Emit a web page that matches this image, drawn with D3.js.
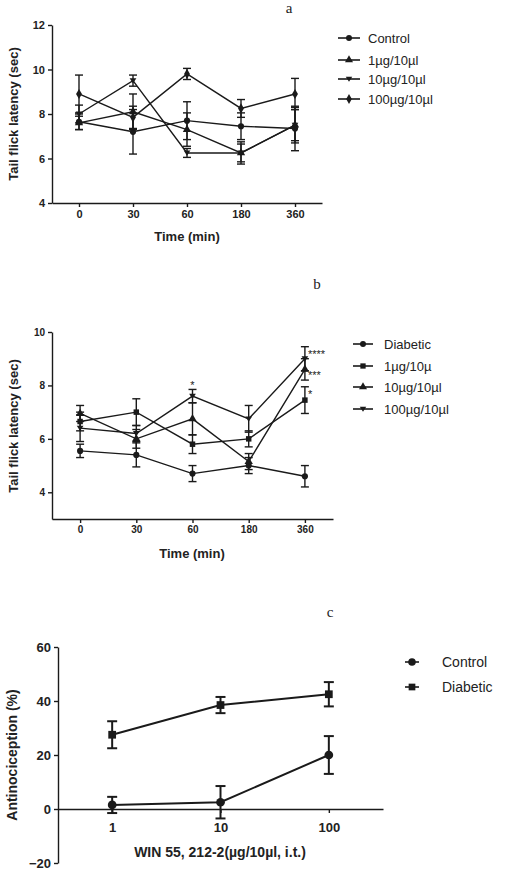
<!DOCTYPE html>
<html lang="en">
<head>
<meta charset="UTF-8">
<title>Tail flick</title>
<script src="https://cdn.jsdelivr.net/npm/d3@7"></script>
<style>
  html, body { margin: 0; padding: 0; background: #fff; }
  .tick text { font-family: 'Liberation Sans', Arial; font-weight: bold; font-size: 11px; fill: #222; }
  .lbl { font-family: 'Liberation Sans', Arial; font-weight: bold; font-size: 13px; fill: #222; }
  .leg { font-family: 'Liberation Sans', Arial; font-size: 13px; fill: #222; }
  .ttl { font-family: 'Liberation Serif', serif; font-size: 15px; fill: #222; }
</style>
</head>
<body>
<script>
const timesA = ["0", "30", "60", "180", "360"];
const namesA = ["Control", "1µg/10µl", "10µg/10µl", "100µg/10µl"];
const meansA = [
  [7.65, 7.2, 7.7, 7.45, 7.35],
  [7.6, 8.1, 7.3, 6.25, 7.5],
  [8.0, 9.5, 6.25, 6.25, 7.5],
  [8.9, 7.85, 9.8, 8.25, 8.9]
];
const errsA = [
  [0.35, 1.0, 0.85, 0.6, 1.0],
  [0.3, 0.8, 0.75, 0.5, 0.7],
  [0.4, 0.25, 0.2, 0.4, 0.8],
  [0.85, 0.5, 0.25, 0.4, 0.7]
];

const timesB = ["0", "30", "60", "180", "360"];
const namesB = ["Diabetic", "1µg/10µ", "10µg/10µl", "100µg/10µl"];
const meansB = [
  [5.55, 5.4, 4.7, 5.0, 4.6],
  [6.65, 7.0, 5.8, 6.0, 7.45],
  [6.95, 6.0, 6.75, 5.15, 8.6],
  [6.4, 6.2, 7.6, 6.75, 9.0]
];
const errsB = [
  [0.25, 0.45, 0.3, 0.3, 0.4],
  [0.35, 0.5, 0.35, 0.3, 0.5],
  [0.3, 0.35, 0.6, 0.3, 0.4],
  [0.5, 0.3, 0.25, 0.5, 0.45]
];
const starsB = [
  { t: "60", v: 8.1, text: "*" },
  { t: "360", v: 9.25, text: "****" },
  { t: "360", v: 8.45, text: "***" },
  { t: "360", v: 7.75, text: "*" }
];

const dosesC = [1, 10, 100];
const namesC = ["Control", "Diabetic"];
const meansC = [[1.5, 2.5, 20], [27.5, 38.5, 42.5]];
const errsC = [[3, 6, 7], [5, 3, 4.5]];

const svg = d3.select("body").append("svg").attr("width", 507).attr("height", 872);

const triDown = { draw(ctx, size) { const s = Math.sqrt(size / 1.3); ctx.moveTo(0, s * 0.6); ctx.lineTo(s * 0.7, -s * 0.5); ctx.lineTo(-s * 0.7, -s * 0.5); ctx.closePath(); } };

function drawSeries(g, x, y, cats, means, errs, shapes, size, cap, width) {
  means.forEach((m, si) => {
    const pts = m.map((v, i) => ({ c: cats[i], v, e: errs[si][i] }));
    g.append("path").datum(pts)
      .attr("fill", "none").attr("stroke", "#1a1a1a").attr("stroke-width", width)
      .attr("d", d3.line().x(d => x(d.c)).y(d => y(d.v)));
    const eb = g.append("g").attr("stroke", "#1a1a1a").attr("stroke-width", width);
    pts.forEach(d => {
      const cx = x(d.c);
      eb.append("line").attr("x1", cx).attr("x2", cx).attr("y1", y(d.v - d.e)).attr("y2", y(d.v + d.e));
      [d.v - d.e, d.v + d.e].forEach(v => eb.append("line").attr("x1", cx - cap).attr("x2", cx + cap).attr("y1", y(v)).attr("y2", y(v)));
    });
    g.selectAll(null).data(pts).enter().append("path")
      .attr("fill", "#1a1a1a")
      .attr("transform", d => `translate(${x(d.c)},${y(d.v)})`)
      .attr("d", d3.symbol().type(shapes[si]).size(size));
  });
}

function legend(g, names, shapes, x, ys, size, fs, lineLen, gap) {
  names.forEach((n, i) => {
    g.append("line").attr("x1", x).attr("x2", x + lineLen).attr("y1", ys[i]).attr("y2", ys[i]).attr("stroke", "#1a1a1a").attr("stroke-width", 1.6);
    g.append("path").attr("transform", `translate(${x + lineLen / 2},${ys[i]})`).attr("fill", "#1a1a1a").attr("d", d3.symbol().type(shapes[i]).size(size));
    g.append("text").attr("class", "leg").attr("x", x + lineLen + gap).attr("y", ys[i] + 4.5).style("font-size", fs + "px").text(n);
  });
}

function styleAxis(sel) {
  sel.selectAll("path, line").attr("stroke", "#1a1a1a").attr("stroke-width", 1.4);
}

// Panel a
{
  const x = d3.scalePoint().domain(timesA).range([52, 322]).padding(0.5);
  const y = d3.scaleLinear().domain([4, 12]).range([203, 25]);
  const g = svg.append("g");
  g.append("g").attr("transform", "translate(0,203)").call(d3.axisBottom(x).tickSize(4).tickSizeOuter(0)).call(styleAxis);
  g.append("g").attr("transform", "translate(52,0)").call(d3.axisLeft(y).tickValues([4, 6, 8, 10, 12]).tickFormat(d3.format("d")).tickSize(4).tickSizeOuter(0)).call(styleAxis);
  drawSeries(g, x, y, timesA, meansA, errsA, [d3.symbolCircle, d3.symbolTriangle, triDown, d3.symbolDiamond], 30, 4, 1.4);
  g.append("text").attr("class", "lbl").attr("x", 187).attr("y", 241).attr("text-anchor", "middle").text("Time (min)");
  g.append("text").attr("class", "lbl").attr("transform", "translate(18,114) rotate(-90)").attr("text-anchor", "middle").text("Tail flick latency (sec)");
  g.append("text").attr("class", "ttl").attr("x", 289).attr("y", 13).attr("text-anchor", "middle").text("a");
  legend(g, namesA, [d3.symbolCircle, d3.symbolTriangle, triDown, d3.symbolDiamond], 338, [38, 60, 79, 99], 28, 13, 22, 8);
}

// Panel b
{
  const x = d3.scalePoint().domain(timesB).range([52, 333]).padding(0.5);
  const y = d3.scaleLinear().domain([3, 10]).range([519, 332]);
  const g = svg.append("g");
  g.append("g").attr("transform", "translate(0,519)").call(d3.axisBottom(x).tickSize(4).tickSizeOuter(0)).call(styleAxis);
  g.append("g").attr("transform", "translate(52,0)").call(d3.axisLeft(y).tickValues([4, 6, 8, 10]).tickFormat(d3.format("d")).tickSize(4).tickSizeOuter(0)).call(styleAxis);
  g.selectAll(".tick text").style("font-size", "10px");
  drawSeries(g, x, y, timesB, meansB, errsB, [d3.symbolCircle, d3.symbolSquare, d3.symbolTriangle, triDown], 30, 4, 1.4);
  starsB.forEach(s => {
    const right = s.t === "360";
    g.append("text").attr("class", "leg").style("font-size", "11px")
      .attr("x", right ? x(s.t) + 3 : x(s.t)).attr("y", y(s.v) + 6)
      .attr("text-anchor", right ? "start" : "middle").text(s.text);
  });
  g.append("text").attr("class", "lbl").attr("x", 192).attr("y", 558).attr("text-anchor", "middle").text("Time (min)");
  g.append("text").attr("class", "lbl").attr("transform", "translate(18,426) rotate(-90)").attr("text-anchor", "middle").text("Tail flick latency (sec)");
  g.append("text").attr("class", "ttl").attr("x", 317).attr("y", 289).attr("text-anchor", "middle").text("b");
  legend(g, namesB, [d3.symbolCircle, d3.symbolSquare, d3.symbolTriangle, triDown], 353, [344, 366, 387, 409], 28, 13, 20, 11);
}

// Panel c
{
  const x = d3.scaleLog().domain([Math.pow(10, -0.5), Math.pow(10, 2.5)]).range([58, 383]);
  const y = d3.scaleLinear().domain([-20, 60]).range([863, 647]);
  const g = svg.append("g");
  const xa = g.append("g").attr("transform", `translate(0,${y(0)})`).call(d3.axisBottom(x).tickValues(dosesC).tickFormat(d3.format("d")).tickSize(4).tickSizeOuter(0)).call(styleAxis);
  xa.selectAll(".tick text").attr("dy", "1.2em").style("font-size", "13px");
  const ya = g.append("g").attr("transform", "translate(58,0)").call(d3.axisLeft(y).tickValues([-20, 0, 20, 40, 60]).tickSize(4).tickSizeOuter(0)).call(styleAxis);
  ya.selectAll(".tick text").style("font-size", "13px");
  drawSeries(g, x, y, dosesC, meansC, errsC, [d3.symbolCircle, d3.symbolSquare], 60, 5, 2);
  g.append("text").attr("class", "lbl").style("font-size", "14px").attr("x", 220).attr("y", 857).attr("text-anchor", "middle").text("WIN 55, 212-2(µg/10µl, i.t.)");
  g.append("text").attr("class", "lbl").style("font-size", "14px").attr("transform", "translate(17,755) rotate(-90)").attr("text-anchor", "middle").text("Antinociception (%)");
  g.append("text").attr("class", "ttl").attr("x", 330).attr("y", 617).attr("text-anchor", "middle").text("c");
  legend(g, namesC, [d3.symbolCircle, d3.symbolSquare], 405, [662, 687], 45, 14, 14, 23);
}
</script>
</body>
</html>
